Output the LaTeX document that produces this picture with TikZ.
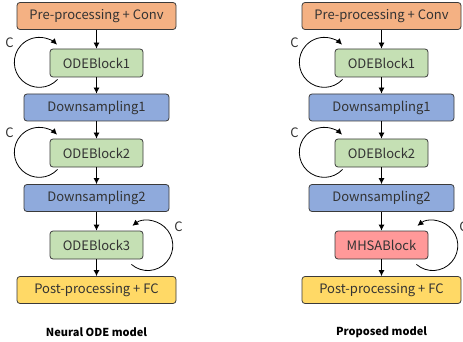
\documentclass[tikz,border=0pt]{standalone}
\usepackage{fontspec}
\setmainfont{Noto Sans CJK JP}
\usetikzlibrary{arrows.meta}
\definecolor{preorange}{HTML}{F4B183}
\definecolor{odegreen}{HTML}{C5E0B4}
\definecolor{downblue}{HTML}{8FAADC}
\definecolor{mhsared}{HTML}{FF9999}
\definecolor{postyellow}{HTML}{FFD966}
\definecolor{edgegray}{HTML}{3A3A3A}
\begin{document}
\begin{tikzpicture}[x=1pt, y=1pt, node distance=46pt, >={Latex[length=6pt,width=6pt]}, line width=0.8pt,
  block/.style={rectangle, draw=edgegray, rounded corners=3pt, minimum height=27pt, font={\fontsize{13}{15}\selectfont}, text=black!80},
  wide/.style={block, minimum width=159pt},
  mid/.style={block, minimum width=145pt},
  small/.style={block, minimum width=93pt, minimum height=28pt},
  loopc/.style={font={\fontsize{13}{15}\selectfont}, text=black!80},
  title/.style={font={\fontsize{11}{13}\selectfont\bfseries}}]
  \useasboundingbox (0,0) rectangle (463,-342);

  % Neural ODE model
  \node[wide, fill=preorange] at (96.5,-16) (preL) {Pre-processing + Conv};
  \node[small, fill=odegreen, below of=preL, node distance=47pt] (odeLa) {ODEBlock1};
  \node[mid, fill=downblue, below of=odeLa, node distance=44.5pt] (downLa) {Downsampling1};
  \node[small, fill=odegreen, below of=downLa, node distance=45.5pt] (odeLb) {ODEBlock2};
  \node[mid, fill=downblue, below of=odeLb, node distance=45pt] (downLb) {Downsampling2};
  \node[small, fill=odegreen, below of=downLb, node distance=47pt] (odeLc) {ODEBlock3};
  \node[wide, fill=postyellow, below of=odeLc, node distance=45pt] (postL) {Post-processing + FC};
  \node[title, below of=postL, node distance=42pt] (titleL) {Neural ODE model};

  \draw[->] (preL) -- (odeLa);
  \draw[->] (odeLa) -- (downLa);
  \draw[->] (downLa) -- (odeLb);
  \draw[->] (odeLb) -- (downLb);
  \draw[->] (downLb) -- (odeLc);
  \draw[->] (odeLc) -- (postL);

  \draw[->] ([xshift=8pt,yshift=-2pt]odeLa.south west) arc[start angle=-43, end angle=-315, radius=25pt];
  \draw[->] ([xshift=8pt,yshift=-2pt]odeLb.south west) arc[start angle=-43, end angle=-315, radius=25pt];
  \draw[->] ([xshift=-12pt,yshift=-5pt]odeLc.south east) arc[start angle=-131, end angle=128, radius=25pt];
  \node[loopc] at ([xshift=-40pt,yshift=6pt]odeLa.north west) (cLa) {C};
  \node[loopc] at ([xshift=-40pt,yshift=6pt]odeLb.north west) (cLb) {C};
  \node[loopc] at ([xshift=35pt,yshift=4pt]odeLc.north east) (cLc) {C};

  % Proposed model
  \node[wide, fill=preorange] at (381.5,-16) (preR) {Pre-processing + Conv};
  \node[small, fill=odegreen, below of=preR, node distance=47pt] (odeRa) {ODEBlock1};
  \node[mid, fill=downblue, below of=odeRa, node distance=44.5pt] (downRa) {Downsampling1};
  \node[small, fill=odegreen, below of=downRa, node distance=45.5pt] (odeRb) {ODEBlock2};
  \node[mid, fill=downblue, below of=odeRb, node distance=45pt] (downRb) {Downsampling2};
  \node[small, fill=mhsared, below of=downRb, node distance=47pt] (mhsa) {MHSABlock};
  \node[wide, fill=postyellow, below of=mhsa, node distance=45pt] (postR) {Post-processing + FC};
  \node[title, below of=postR, node distance=42pt] (titleR) {Proposed model};

  \draw[->] (preR) -- (odeRa);
  \draw[->] (odeRa) -- (downRa);
  \draw[->] (downRa) -- (odeRb);
  \draw[->] (odeRb) -- (downRb);
  \draw[->] (downRb) -- (mhsa);
  \draw[->] (mhsa) -- (postR);

  \draw[->] ([xshift=8pt,yshift=-2pt]odeRa.south west) arc[start angle=-43, end angle=-315, radius=25pt];
  \draw[->] ([xshift=8pt,yshift=-2pt]odeRb.south west) arc[start angle=-43, end angle=-315, radius=25pt];
  \draw[->] ([xshift=-12pt,yshift=-5pt]mhsa.south east) arc[start angle=-131, end angle=128, radius=25pt];
  \node[loopc] at ([xshift=-40pt,yshift=6pt]odeRa.north west) (cRa) {C};
  \node[loopc] at ([xshift=-40pt,yshift=6pt]odeRb.north west) (cRb) {C};
  \node[loopc] at ([xshift=35pt,yshift=4pt]mhsa.north east) (cRc) {C};
\end{tikzpicture}
\end{document}
